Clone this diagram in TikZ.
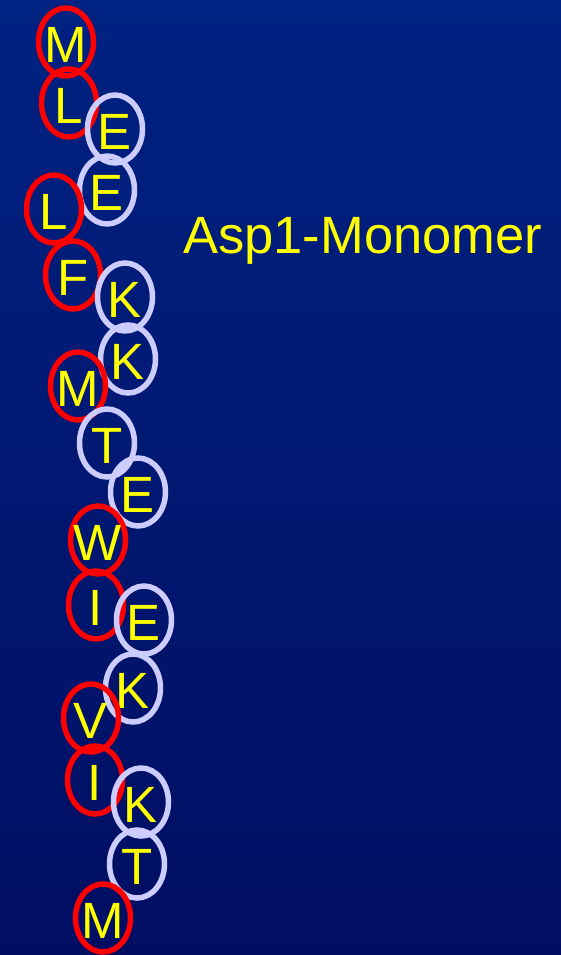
\documentclass[tikz,border=0pt]{standalone}
\usepackage{fontspec}
\setmainfont{Liberation Sans}
\usetikzlibrary{shapes.geometric}
\definecolor{bgtop}{RGB}{0,34,130}
\definecolor{bgmid}{RGB}{0,51,153}
\definecolor{bgbot}{RGB}{0,14,98}
\definecolor{hydro}{RGB}{255,0,0}
\definecolor{polar}{RGB}{204,204,255}
\definecolor{letter}{RGB}{255,255,0}
\tikzset{
  residue/.style={ellipse, minimum width=55pt, minimum height=68pt, inner sep=0pt,
    line width=5.5pt, label={[text=letter, font=\fontsize{51}{51}\selectfont, inner sep=0pt, yshift=-3pt]center:#1}},
  redres/.style={residue=#1, draw=hydro},
  blueres/.style={residue=#1, draw=polar},
}
\begin{document}
\begin{tikzpicture}[x=1pt, y=-1pt]
  % background
  \shade[top color=bgtop, middle color=bgmid, bottom color=bgbot] (0,0) rectangle (561,955);
  \useasboundingbox (0,0) rectangle (561,955);

  % residue chain
  \node[redres=M]  (r1)  at (66,42)   {};
  \node[redres=L]  (r2)  at (69,103)  {};
  \node[blueres=E] (r3)  at (115,129) {};
  \node[blueres=E] (r4)  at (107,190) {};
  \node[redres=L]  (r5)  at (54,209)  {};
  \node[redres=F]  (r6)  at (73,275)  {};
  \node[blueres=K] (r7)  at (125,297) {};
  \node[blueres=K] (r8)  at (128,359) {};
  \node[redres=M]  (r9)  at (78,386)  {};
  \node[blueres=T] (r10) at (107,443) {};
  \node[blueres=E] (r11) at (138,492) {};
  \node[redres=W]  (r12) at (98,540)  {};
  \node[redres=I]  (r13) at (96,605)  {};
  \node[blueres=E] (r14) at (144,620) {};
  \node[blueres=K] (r15) at (133,688) {};
  \node[redres=V]  (r16) at (91,718)  {};
  \node[redres=I]  (r17) at (95,780)  {};
  \node[blueres=K] (r18) at (141,802) {};
  \node[blueres=T] (r19) at (137,864) {};
  \node[redres=M]  (r20) at (103,918) {};

  % title
  \node[anchor=base west, inner sep=0pt, text=letter, font=\fontsize{52.5}{52.5}\selectfont]
    (title) at (183,253) {Asp1-Monomer};
\end{tikzpicture}
\end{document}
